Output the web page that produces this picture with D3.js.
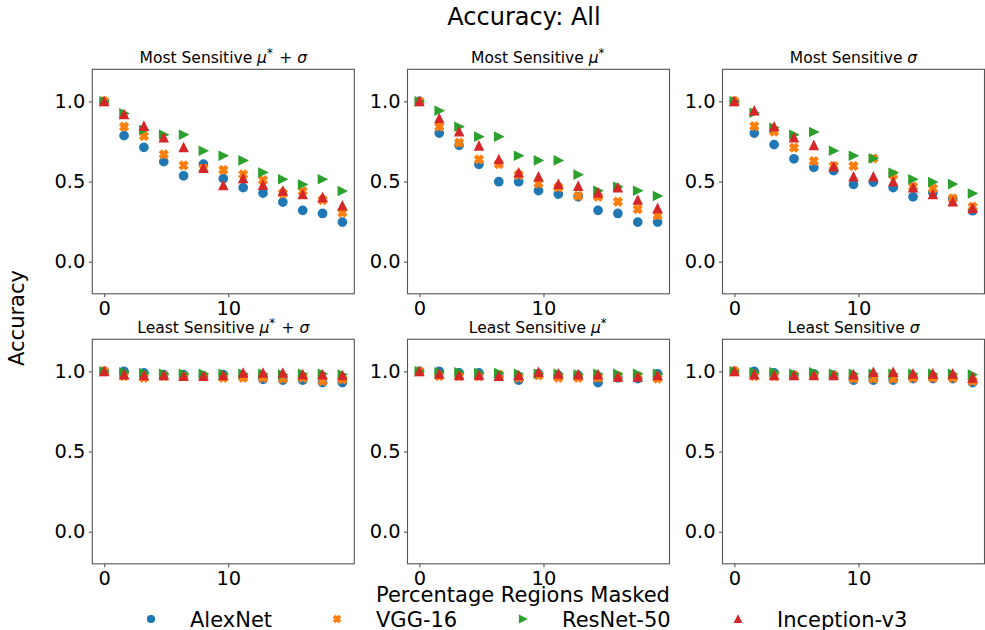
<!DOCTYPE html>
<html>
<head>
<meta charset="utf-8">
<script src="https://cdn.jsdelivr.net/npm/d3@7"></script>
<style>
body { margin: 0; background: #fff; }
text { font-family: "DejaVu Sans", sans-serif; fill: #000; }
</style>
</head>
<body>
<script>
// x positions: percentage of regions masked
var xPct = [0, 1.6, 3.2, 4.8, 6.4, 8, 9.6, 11.2, 12.8, 14.4, 16, 17.6, 19.2];
var models = ["AlexNet", "VGG-16", "ResNet-50", "Inception-v3"];
var colors = ["#1f77b4", "#ff7f0e", "#2ca02c", "#d62728"];

var panelTitles = [
	"Most Sensitive μ* + σ", "Most Sensitive μ*", "Most Sensitive σ",
	"Least Sensitive μ* + σ", "Least Sensitive μ*", "Least Sensitive σ"
];

// rows: AlexNet, VGG-16, ResNet-50, Inception-v3
var mostMuSigma = [
	[1.0, 0.786, 0.713, 0.624, 0.536, 0.609, 0.518, 0.462, 0.428, 0.372, 0.320, 0.301, 0.247],
	[1.0, 0.842, 0.784, 0.669, 0.601, 0.582, 0.572, 0.545, 0.509, 0.426, 0.440, 0.385, 0.306],
	[1.0, 0.925, 0.821, 0.792, 0.792, 0.692, 0.661, 0.632, 0.557, 0.514, 0.482, 0.514, 0.441],
	[1.0, 0.919, 0.846, 0.773, 0.713, 0.584, 0.476, 0.520, 0.478, 0.441, 0.420, 0.401, 0.349]
];
var mostMu = [
	[1.0, 0.802, 0.726, 0.607, 0.499, 0.499, 0.443, 0.422, 0.405, 0.320, 0.301, 0.247, 0.247],
	[1.0, 0.842, 0.742, 0.638, 0.609, 0.541, 0.489, 0.464, 0.410, 0.405, 0.374, 0.328, 0.289],
	[1.0, 0.942, 0.842, 0.780, 0.780, 0.661, 0.632, 0.632, 0.543, 0.443, 0.468, 0.443, 0.410],
	[1.0, 0.894, 0.811, 0.723, 0.638, 0.555, 0.530, 0.484, 0.472, 0.430, 0.462, 0.385, 0.333]
];
var mostSigma = [
	[1.0, 0.802, 0.730, 0.642, 0.588, 0.568, 0.482, 0.497, 0.462, 0.405, 0.430, 0.389, 0.318],
	[1.0, 0.846, 0.811, 0.711, 0.628, 0.597, 0.597, 0.644, 0.541, 0.468, 0.457, 0.395, 0.343],
	[1.0, 0.929, 0.836, 0.792, 0.809, 0.692, 0.661, 0.644, 0.555, 0.514, 0.497, 0.484, 0.426],
	[1.0, 0.942, 0.842, 0.773, 0.726, 0.593, 0.530, 0.530, 0.499, 0.462, 0.420, 0.374, 0.333]
];
var leastMuSigma = [
	[1.0, 1.0, 0.99, 0.98, 0.98, 0.97, 0.98, 0.97, 0.95, 0.945, 0.945, 0.93, 0.93],
	[1.0, 0.97, 0.96, 0.97, 0.97, 0.97, 0.96, 0.96, 0.96, 0.955, 0.96, 0.94, 0.95],
	[1.0, 0.995, 0.99, 0.985, 0.985, 0.985, 0.985, 0.985, 0.985, 0.98, 0.985, 0.985, 0.98],
	[1.0, 0.98, 0.975, 0.975, 0.97, 0.97, 0.975, 0.99, 0.99, 0.99, 0.98, 0.98, 0.975]
];
var leastMu = [
	[1.0, 1.0, 0.99, 0.99, 0.97, 0.945, 0.985, 0.975, 0.975, 0.93, 0.96, 0.955, 0.985],
	[1.0, 0.97, 0.97, 0.97, 0.98, 0.96, 0.975, 0.96, 0.96, 0.96, 0.97, 0.97, 0.955],
	[1.0, 0.995, 0.995, 0.99, 0.99, 0.985, 0.985, 0.985, 0.98, 0.985, 0.985, 0.985, 0.985],
	[1.0, 0.985, 0.975, 0.975, 0.97, 0.975, 0.995, 0.985, 0.98, 0.98, 0.965, 0.965, 0.975]
];
var leastSigma = [
	[1.0, 1.0, 0.99, 0.975, 0.985, 0.975, 0.945, 0.945, 0.945, 0.955, 0.955, 0.955, 0.93],
	[1.0, 0.97, 0.97, 0.975, 0.975, 0.975, 0.955, 0.955, 0.955, 0.96, 0.96, 0.96, 0.94],
	[1.0, 0.995, 0.995, 0.985, 0.995, 0.985, 0.985, 0.985, 0.985, 0.985, 0.985, 0.985, 0.98],
	[1.0, 0.98, 0.975, 0.975, 0.975, 0.975, 0.98, 0.995, 0.995, 0.985, 0.985, 0.985, 0.96]
];
var panelData = [mostMuSigma, mostMu, mostSigma, leastMuSigma, leastMu, leastSigma];

var xTicks = [0, 10];
var yTicks = [0.0, 0.5, 1.0];

var W = 985, H = 630;
var svg = d3.select("body").append("svg").attr("width", W).attr("height", H);

var colLeft = [92.3, 407.5, 722.5], rowTop = [69.3, 339.3];
var pw = 262, ph = 224.5;

var x = d3.scaleLinear().domain([-0.96, 20.16]).range([0, pw]);
var y = d3.scaleLinear().domain([-0.2, 1.2]).range([ph, 0]);

// matplotlib-like marker paths: circle, filled X, right triangle, up triangle
function markerPath(k, s) {
	var h = s / 2;
	if (k == 0) return d3.symbol(d3.symbolCircle, Math.PI * h * h)();
	if (k == 1) {
		var pts = [[-1,-2],[0,-1],[1,-2],[2,-1],[1,0],[2,1],[1,2],[0,1],[-1,2],[-2,1],[-1,0],[-2,-1]];
		return "M" + pts.map(function(p){ return [p[0]*s/4, p[1]*s/4].join(","); }).join("L") + "Z";
	}
	if (k == 2) return "M" + h + ",0L" + (-h) + "," + (-h) + "L" + (-h) + "," + h + "Z";
	return "M0," + (-h) + "L" + h + "," + h + "L" + (-h) + "," + h + "Z";
}

function mathTitle(sel, str) {
	// italic greek letters and superscript star, like mathtext
	var buf = "";
	function flush() { if (buf) { sel.append("tspan").text(buf); buf = ""; } }
	for (var i = 0; i < str.length; i++) {
		var c = str[i];
		if (c == "μ" || c == "σ") {
			flush();
			sel.append("tspan").attr("font-style", "italic").text(c);
		} else if (c == "*") {
			flush();
			sel.append("tspan").attr("dy", -6).attr("font-size", "0.75em").text("*");
			sel.append("tspan").attr("dy", 6).text("\u200a");
		} else buf += c;
	}
	flush();
}

panelData.forEach(function(series, p) {
	var r = Math.floor(p / 3), c = p % 3;
	var g = svg.append("g").attr("transform", "translate(" + colLeft[c] + "," + rowTop[r] + ")");

	var xa = g.append("g").attr("transform", "translate(0," + ph + ")")
		.call(d3.axisBottom(x).tickValues(xTicks).tickSize(3.5).tickPadding(3.5).tickFormat(d3.format("d")));
	var ya = g.append("g")
		.call(d3.axisLeft(y).tickValues(yTicks).tickSize(3.5).tickPadding(3.5).tickFormat(d3.format(".1f")));
	[xa, ya].forEach(function(a) {
		a.select(".domain").remove();
		a.selectAll(".tick line").attr("stroke", "#555").attr("stroke-width", 1.1);
		a.selectAll(".tick text").attr("font-size", 19.4).attr("font-family", "DejaVu Sans").attr("fill", "#000");
	});

	series.forEach(function(vals, k) {
		g.append("g").selectAll("path")
			.data(vals)
			.enter().append("path")
			.attr("d", markerPath(k, 8.3))
			.attr("transform", function(d, i) { return "translate(" + x(xPct[i]) + "," + y(d) + ")"; })
			.attr("fill", colors[k])
			.attr("stroke", colors[k])
			.attr("stroke-width", 1.4);
	});

	g.append("rect").attr("width", pw).attr("height", ph)
		.attr("fill", "none").attr("stroke", "#555").attr("stroke-width", 1.1);

	var t = g.append("text").attr("x", pw / 2).attr("y", -6)
		.attr("text-anchor", "middle").attr("font-size", 15.5);
	mathTitle(t, panelTitles[p]);
});

svg.append("text").attr("x", 524).attr("y", 25).attr("text-anchor", "middle")
	.attr("font-size", 24).text("Accuracy: All");

svg.append("text").attr("transform", "translate(24,318) rotate(-90)")
	.attr("text-anchor", "middle").attr("font-size", 21).text("Accuracy");

svg.append("text").attr("x", 523).attr("y", 602).attr("text-anchor", "middle")
	.attr("font-size", 21).text("Percentage Regions Masked");

// legend
var legX = [151, 337, 523, 738];
var leg = svg.append("g").selectAll("g").data(models).enter().append("g")
	.attr("transform", function(d, i) { return "translate(" + legX[i] + ",619)"; });
leg.append("path")
	.attr("d", function(d, i) { return markerPath(i, 7); })
	.attr("fill", function(d, i) { return colors[i]; })
	.attr("stroke", function(d, i) { return colors[i]; })
	.attr("stroke-width", 1.2);
leg.append("text").attr("x", 39).attr("y", 7.5).attr("font-size", 21)
	.text(function(d) { return d; });
</script>
</body>
</html>
